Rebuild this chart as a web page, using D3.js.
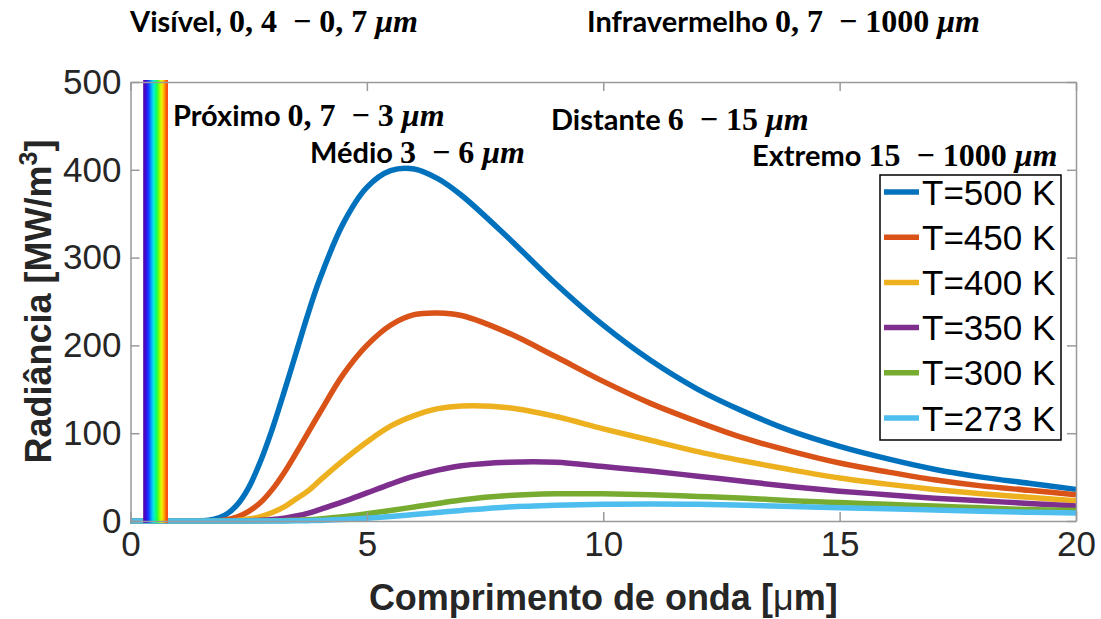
<!DOCTYPE html>
<html lang="pt">
<head>
<meta charset="UTF-8">
<title>Radiância de corpo negro</title>
<script src="https://cdn.jsdelivr.net/npm/d3@7/dist/d3.min.js"></script>
<style>
  body { margin: 0; background: #fff; }
  svg { display: block; }
  text { white-space: pre; }
  .tick text { font-family: "Liberation Sans", Arial, sans-serif; font-size: 35px; fill: #262626; }
  .tx { font-family: Lato, "Open Sans", sans-serif; font-weight: bold; }
  .mn { font-family: "Liberation Serif", serif; font-weight: bold; }
  .mi { font-family: "Liberation Serif", serif; font-weight: bold; font-style: italic; }
</style>
</head>
<body>
<svg id="chart" width="1101" height="619"></svg>
<script>

// comprimento de onda [um]
const wavelength = [0, 0.5, 1, 1.5, 1.75, 2, 2.25, 2.5, 2.75, 3, 3.25, 3.5, 3.75, 4, 4.5, 5, 5.5, 6, 6.5, 7, 8, 9, 10, 11, 12, 13, 14, 15, 16, 17, 18, 19, 20]

// radiancia [MW/m3]
const t500 = [0, 0, 0, 0.2, 1.7, 6.6, 18, 38, 68, 105, 147, 191, 235, 275, 339, 380, 399, 401, 390, 371, 322, 270, 223, 183, 150, 124, 102, 85, 71, 59, 50, 43, 36]
const t450 = [0, 0, 0, 0, 0.3, 1.3, 4.4, 11, 21, 36, 55, 77, 100, 123, 167, 200, 223, 235, 237, 234, 214, 187, 159, 134, 113, 94, 79, 66, 56, 47, 40, 35, 30]
const t400 = [0, 0, 0, 0, 0, 0.2, 0.7, 2.2, 5, 9.6, 16, 25, 34, 46, 69, 90, 108, 120, 128, 131, 129, 119, 105, 92, 79, 68, 58, 49, 42, 36, 31, 27, 23]
const t350 = [0, 0, 0, 0, 0, 0, 0, 0.3, 0.8, 1.7, 3.3, 5.7, 8.7, 13, 22, 32, 42, 51, 58, 63, 67, 67, 62, 57, 51, 45, 39, 34, 30, 26, 23, 20, 17]
const t300 = [0, 0, 0, 0, 0, 0, 0, 0, 0, 0.2, 0.4, 0.8, 1.4, 2.3, 4.8, 8.2, 12, 16, 20, 24, 29, 31, 31, 30, 28, 26, 23, 21, 19, 17, 15, 13, 12]
const t273 = [0, 0, 0, 0, 0, 0, 0, 0, 0, 0, 0.1, 0.2, 0.4, 0.7, 1.7, 3.2, 5.1, 7.4, 9.7, 12, 16, 18, 19, 19.5, 19, 18, 16.5, 15, 14, 12.4, 11, 10, 9]

const seriesNames = ['T=500 K', 'T=450 K', 'T=400 K', 'T=350 K', 'T=300 K', 'T=273 K']
const seriesValues = [t500, t450, t400, t350, t300, t273]
const seriesColors = ['#0072BD', '#D95319', '#EDB120', '#7E2F8E', '#77AC30', '#4DBEEE']

const xTicks = [0, 5, 10, 15, 20]
const yTicks = [0, 100, 200, 300, 400, 500]

// faixa visivel desenhada no grafico
const bandRange = [0.27, 0.78]
const bandColors = ['#50009a', '#4000e0', '#1020ff', '#0070ff', '#00c8ff', '#00ffc0', '#00ff50', '#70ff00', '#e0ff00', '#ffd000', '#ff7000', '#ff3000']

const svg = d3.select('#chart')
const x = d3.scaleLinear().domain([0, 20]).range([130.5, 1076])
const y = d3.scaleLinear().domain([0, 500]).range([521, 82])

// curvas
const line = d3.line()
  .x((d, i) => x(wavelength[i]))
  .y(d => y(d))
  .curve(d3.curveCatmullRom.alpha(0.5))

svg.append('g').selectAll('path')
  .data(seriesValues)
  .join('path')
  .attr('d', d => line(d))
  .attr('fill', 'none')
  .attr('stroke', (d, i) => seriesColors[i])
  .attr('stroke-width', 5.5)
  .attr('stroke-linejoin', 'round')

// faixa do arco-iris
const bandColor = d3.interpolateRgbBasis(bandColors)
const bandSteps = d3.range(0, 1, 1 / 48)
const bw = (x(bandRange[1]) - x(bandRange[0])) / bandSteps.length
svg.append('g').selectAll('rect')
  .data(bandSteps)
  .join('rect')
  .attr('x', d => x(bandRange[0]) + d * (x(bandRange[1]) - x(bandRange[0])))
  .attr('y', y(500) - 2)
  .attr('width', bw + 0.5)
  .attr('height', y(0) - y(500) + 4)
  .attr('fill', d => bandColor(d))

// eixos
const axisColor = '#9a9a9a'
const gx = svg.append('g').attr('transform', `translate(0,${y(0)})`)
  .call(d3.axisBottom(x).tickValues(xTicks).tickSizeInner(-9).tickSizeOuter(0).tickPadding(10))
const gy = svg.append('g').attr('transform', `translate(${x(0)},0)`)
  .call(d3.axisLeft(y).tickValues(yTicks).tickSizeInner(-9).tickSizeOuter(0).tickPadding(9))
const gt = svg.append('g').attr('transform', `translate(0,${y(500)})`)
  .call(d3.axisTop(x).tickValues(xTicks).tickSizeInner(-9).tickSizeOuter(0).tickFormat(''))
const gr = svg.append('g').attr('transform', `translate(${x(20)},0)`)
  .call(d3.axisRight(y).tickValues(yTicks).tickSizeInner(-9).tickSizeOuter(0).tickFormat(''))
;[gx, gy, gt, gr].forEach(g => {
  g.selectAll('.domain').attr('stroke', axisColor).attr('stroke-width', 1.5)
  g.selectAll('.tick line').attr('stroke', axisColor).attr('stroke-width', 1.5)
})

// titulos dos eixos
svg.append('text')
  .attr('x', x(10)).attr('y', 610)
  .attr('text-anchor', 'middle')
  .attr('font-family', '"Liberation Sans", Arial, sans-serif')
  .attr('font-weight', 'bold').attr('font-size', 36).attr('fill', '#262626')
  .call(t => {
    t.append('tspan').text('Comprimento de onda [')
    t.append('tspan').attr('font-weight', 'normal').text('\u03bc')
    t.append('tspan').text('m]')
  })

svg.append('text')
  .attr('transform', `translate(51,${y(250)}) rotate(-90)`)
  .attr('text-anchor', 'middle')
  .attr('font-family', '"Liberation Sans", Arial, sans-serif')
  .attr('font-weight', 'bold').attr('font-size', 36).attr('fill', '#262626')
  .call(t => {
    t.append('tspan').text('Radiância [MW/m')
    t.append('tspan').attr('font-size', 25).attr('dy', -14).text('3')
    t.append('tspan').attr('dy', 14).text(']')
  })

// legenda
const lg = svg.append('g').attr('transform', 'translate(880,175)')
lg.append('rect').attr('width', 181).attr('height', 265)
  .attr('fill', '#fff').attr('stroke', '#000').attr('stroke-width', 1.5)
const items = lg.selectAll('g.item').data(seriesNames).join('g')
  .attr('class', 'item')
  .attr('transform', (d, i) => `translate(0,${17 + i * 45.2})`)
items.append('line').attr('x1', 4).attr('x2', 39)
  .attr('stroke', (d, i) => seriesColors[i]).attr('stroke-width', 5.5)
items.append('text').attr('x', 42).attr('dy', '0.36em')
  .attr('font-family', '"Liberation Sans", Arial, sans-serif')
  .attr('font-size', 35).attr('fill', '#000')
  .text(d => d)

// anotacoes das faixas
const notes = [
  { x: 130, y: 32, parts: [['tx', 'Visível, '], ['mn', '0, 4  \u2212 0, 7 '], ['mi', '\u03bcm']] },
  { x: 587, y: 32, parts: [['tx', 'Infravermelho '], ['mn', '0, 7  \u2212 1000 '], ['mi', '\u03bcm']] },
  { x: 173, y: 126, parts: [['tx', 'Próximo '], ['mn', '0, 7  \u2212 3 '], ['mi', '\u03bcm']] },
  { x: 310, y: 163, parts: [['tx', 'Médio '], ['mn', '3  \u2212 6 '], ['mi', '\u03bcm']] },
  { x: 551, y: 130, parts: [['tx', 'Distante '], ['mn', '6  \u2212 15 '], ['mi', '\u03bcm']] },
  { x: 752, y: 166, parts: [['tx', 'Extremo '], ['mn', '15  \u2212 1000 '], ['mi', '\u03bcm']] }
]
svg.append('g').selectAll('text')
  .data(notes)
  .join('text')
  .attr('x', d => d.x).attr('y', d => d.y)
  .attr('fill', '#000')
  .each(function (d) {
    d3.select(this).selectAll('tspan').data(d.parts).join('tspan')
      .attr('class', p => p[0])
      .attr('font-size', p => p[0] === 'tx' ? 29 : 32)
      .text(p => p[1])
  })

</script>
</body>
</html>
